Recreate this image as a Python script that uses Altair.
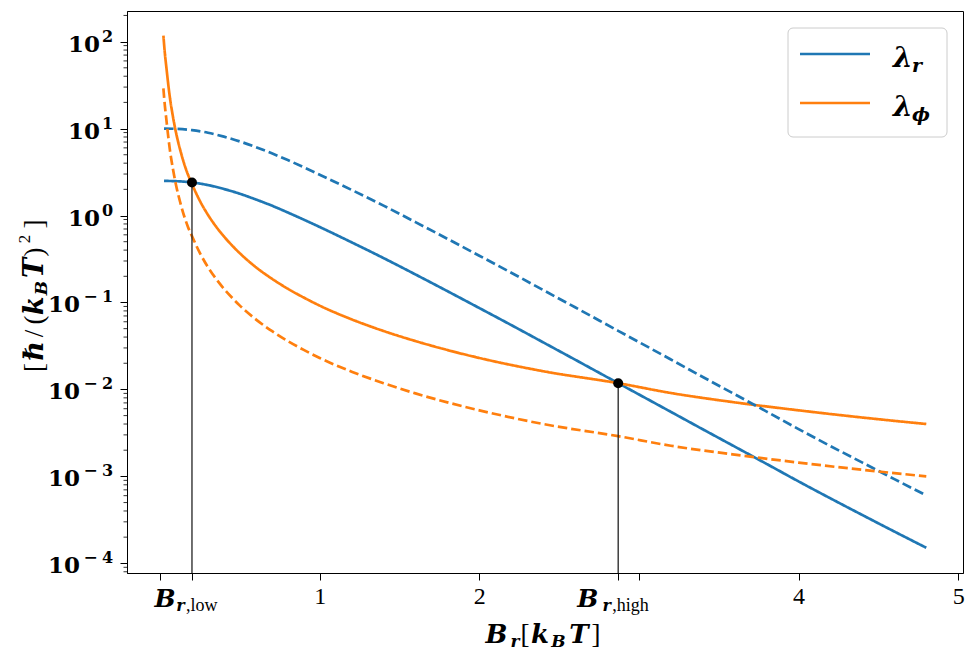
import altair as alt
import pandas as pd

# ---------------- data ----------------
r_x = [0.025, 0.1, 0.2, 0.3, 0.4, 0.5, 0.6, 0.7, 0.8, 0.9, 1.0, 1.2, 1.4, 1.6, 1.8,
       2.0, 2.2, 2.4, 2.6, 2.87, 3.0, 3.2, 3.4, 3.6, 3.8, 4.0, 4.2, 4.4, 4.6, 4.8]
lambda_r_solid = [2.50, 2.483, 2.40, 2.24, 2.02, 1.78, 1.53, 1.30, 1.084, 0.897, 0.738,
                  0.492, 0.324, 0.210, 0.135, 0.0863, 0.055, 0.0348, 0.022, 0.0118,
                  0.00875, 0.00552, 0.00348, 0.0022, 0.00139, 0.000875, 0.000558,
                  0.000359, 0.000232, 0.000151]
lambda_r_dashed = [10.0, 9.93, 9.60, 8.96, 8.07, 7.11, 6.12, 5.19, 4.34, 3.59, 2.95, 1.97,
                   1.30, 0.84, 0.54, 0.345, 0.22, 0.139, 0.088, 0.0472, 0.035, 0.0221,
                   0.0139, 0.0088, 0.00556, 0.0035, 0.00223, 0.00144, 0.00093, 0.000604]

phi_x = [0.021, 0.03, 0.04, 0.05, 0.06, 0.08, 0.1, 0.125, 0.15, 0.175, 0.2, 0.25, 0.3,
         0.35, 0.4, 0.45, 0.5, 0.6, 0.7, 0.8, 0.9, 1.0, 1.2, 1.4, 1.6, 1.8, 2.0, 2.4,
         2.87, 3.2, 3.6, 4.0, 4.4, 4.8]
lambda_phi_solid = [117, 74, 50, 34, 24, 14, 9.0, 5.8, 4.0, 2.95, 2.3, 1.47, 1.02, 0.75,
                    0.575, 0.455, 0.368, 0.255, 0.188, 0.144, 0.114, 0.092, 0.064, 0.047,
                    0.036, 0.0284, 0.023, 0.0162, 0.0118, 0.0091, 0.0071, 0.00575,
                    0.00475, 0.004]
lambda_phi_dashed = [29, 18.5, 12.5, 8.5, 6.0, 3.5, 2.25, 1.45, 1.0, 0.74, 0.58, 0.37,
                     0.255, 0.188, 0.144, 0.114, 0.092, 0.064, 0.047, 0.036, 0.0285,
                     0.023, 0.016, 0.0118, 0.009, 0.0071, 0.00575, 0.004, 0.0029, 0.00225,
                     0.00178, 0.00144, 0.00119, 0.001]

cross_x = [0.2, 2.87]
cross_y = [2.40, 0.0118]

x_domain = [-0.207, 5.03]
y_domain = [7.74e-5, 225]
x_tick_values = [0, 0.2, 1, 2, 2.87, 3, 4, 5]
x_tick_labels = ["", "", "1", "2", "", "", "4", "5"]
y_tick_exponents = [-4, -3, -2, -1, 0, 1, 2]
y_minor_ticks = [m * 10.0 ** e for e in range(-5, 3) for m in range(2, 10)
                 if y_domain[0] <= m * 10.0 ** e <= y_domain[1]]

series_names = ["r", "phi"]
series_labels = ["r", "ϕ"]
series_colors = ["#1f77b4", "#ff7f0e"]

# ---------------- layout ----------------
W, H = 836, 562
MATH = "DejaVu Serif"
ROMAN = "Liberation Serif"
LW = 2.7

rows = []
for x, y in zip(r_x, lambda_r_solid):
    rows.append({"x": x, "y": y, "series": "r", "style": "solid", "key": "r_solid"})
for x, y in zip(phi_x, lambda_phi_solid):
    rows.append({"x": x, "y": y, "series": "phi", "style": "solid", "key": "phi_solid"})
for x, y in zip(r_x, lambda_r_dashed):
    rows.append({"x": x, "y": y, "series": "r", "style": "dashed", "key": "r_dashed"})
for x, y in zip(phi_x, lambda_phi_dashed):
    rows.append({"x": x, "y": y, "series": "phi", "style": "dashed", "key": "phi_dashed"})
df = pd.DataFrame(rows)

xs = alt.Scale(domain=x_domain, nice=False, zero=False)
ys = alt.Scale(type="log", domain=y_domain, nice=False)


def cond_expr(pairs, test):
    expr = "''"
    for v, lab in reversed(pairs):
        expr = f"({test} == {v}) ? '{lab}' : {expr}"
    return expr


x_label_expr = cond_expr(list(zip(x_tick_values, x_tick_labels)), "datum.value")

x_axis = alt.Axis(values=x_tick_values, labelExpr=x_label_expr, title=None, grid=False,
                  labelFont=ROMAN, labelFontSize=24, labelColor="black",
                  tickColor="black", tickSize=7, tickWidth=1, labelPadding=4,
                  domainColor="black", labelFlush=False, labelOverlap=False)
y_axis = alt.Axis(values=[10.0 ** e for e in y_tick_exponents], labels=False,
                  title=None, grid=False, tickColor="black", tickSize=7,
                  tickWidth=1, domainColor="black")

X = alt.X("x:Q", scale=xs, axis=x_axis)
Y = alt.Y("y:Q", scale=ys, axis=y_axis)

lines = alt.Chart(df).mark_line(strokeWidth=LW, clip=True, interpolate="monotone").encode(
    x=X, y=Y,
    color=alt.Color("series:N", scale=alt.Scale(domain=series_names, range=series_colors),
                    legend=None),
    strokeDash=alt.StrokeDash("style:N", scale=alt.Scale(domain=["solid", "dashed"],
                                                          range=[[1, 0], [9.5, 4]]),
                              legend=None),
    detail="key:N",
    order="x:Q",
)

cross_df = pd.DataFrame({"x": cross_x, "y": cross_y})
vrules = alt.Chart(cross_df).mark_rule(color="#222222", strokeWidth=1.3).encode(
    x=X, y=Y, y2=alt.value(H))
dots = alt.Chart(cross_df).mark_circle(size=100, color="black", opacity=1).encode(x=X, y=Y)

minor_df = pd.DataFrame({"y": y_minor_ticks})
minor = alt.Chart(minor_df).mark_rule(color="black", strokeWidth=0.8).encode(
    y=Y, x=alt.value(0), x2=alt.value(-3.5))

# y tick labels: "10" with a superscript exponent
ylab = pd.DataFrame({
    "y": [10.0 ** e for e in y_tick_exponents],
    "neg": [e < 0 for e in y_tick_exponents],
    "digit": [str(abs(e)) for e in y_tick_exponents],
})
ylab_neg = ylab[ylab["neg"]]
ylab_pos = ylab[~ylab["neg"]]


def ylab_layer(d, text, x, size, align, dy, field=False):
    mk = dict(font=MATH, fontSize=size, fontWeight="bold", align=align,
              baseline="alphabetic", dy=dy, color="black")
    if not field:
        mk["text"] = text
    enc = dict(y=Y, x=alt.value(x))
    if field:
        enc["text"] = alt.Text("digit:N")
    return alt.Chart(d).mark_text(**mk).encode(**enc)


y_labels = [
    ylab_layer(ylab_pos, "10", -27, 23, "right", 10),
    ylab_layer(ylab_neg, "10", -47, 23, "right", 10),
    ylab_layer(ylab_neg, "−", -36.5, 17, "center", 0),
    ylab_layer(ylab, None, -25, 16, "left", 0, field=True),
]

one = alt.Data(values=[{"a": 1}])


def txt(s, x, y, size, bold=False, italic=False, font=MATH, align="center",
        angle=0, dx=0, dy=0):
    kw = dict(text=s, font=font, fontSize=size, align=align, baseline="alphabetic",
              color="black", dx=dx, dy=dy)
    if bold:
        kw["fontWeight"] = "bold"
    if italic:
        kw["fontStyle"] = "italic"
    if angle:
        kw["angle"] = angle
    return alt.Chart(one).mark_text(**kw).encode(x=alt.value(x), y=alt.value(y))


# x tick labels for B_r,low and B_r,high (anchored at their data x)
def b_label(xv, sub, dxB):
    d = pd.DataFrame({"x": [xv]})
    base = alt.Chart(d)
    return [
        base.mark_text(text="B", font=MATH, fontSize=25, fontWeight="bold",
                       fontStyle="italic", align="center", baseline="alphabetic",
                       dx=dxB, color="black").encode(x=X, y=alt.value(596)),
        base.mark_text(text="r", font=MATH, fontSize=16, fontWeight="bold",
                       fontStyle="italic", align="center", baseline="alphabetic",
                       dx=-11.5, color="black").encode(x=X, y=alt.value(600)),
        base.mark_text(text=sub, font=ROMAN, fontSize=18, align="left",
                       baseline="alphabetic", dx=-6, color="black").encode(
            x=X, y=alt.value(600)),
    ]


b_labels = b_label(cross_x[0], ",low", -27) + b_label(cross_x[1], ",high", -30.5)

# x title  B_r[k_B T]
xt_y = 632
x_title = [
    txt("B", 369.5, xt_y, 26, bold=True, italic=True),
    txt("r", 388, xt_y + 4, 17, bold=True, italic=True),
    txt("[", 398, xt_y, 27, font=ROMAN),
    txt("k", 413, xt_y, 26, bold=True, italic=True),
    txt("B", 431.5, xt_y + 4, 17, bold=True, italic=True),
    txt("T", 452, xt_y, 26, bold=True, italic=True),
    txt("]", 469, xt_y, 27, font=ROMAN),
]

# y title  [hbar/(k_B T)^2]  rotated
yx, yy = -84, 362
y_title = [
    txt("[", yx, yy, 27, font=ROMAN, angle=270, dx=5.5),
    txt("ℏ", yx, yy, 27, bold=True, italic=True, angle=270, dx=22),
    txt("/", yx, yy, 27, font=ROMAN, angle=270, dx=39.5),
    txt("(", yx, yy, 27, font=ROMAN, angle=270, dx=53),
    txt("k", yx, yy, 27, bold=True, italic=True, angle=270, dx=67),
    txt("B", yx, yy, 17, bold=True, italic=True, angle=270, dx=85, dy=4),
    txt("T", yx, yy, 27, bold=True, italic=True, angle=270, dx=105),
    txt(")", yx, yy, 27, font=ROMAN, angle=270, dx=121),
    txt("2", yx, yy, 17, font=ROMAN, angle=270, dx=134, dy=-13),
    txt("]", yx, yy, 27, font=ROMAN, angle=270, dx=149),
]

# legend
legend_box = alt.Chart(one).mark_rect(fill="white", fillOpacity=0.8, stroke="#cccccc",
                                      strokeWidth=1, cornerRadius=5).encode(
    x=alt.value(661), x2=alt.value(820), y=alt.value(17), y2=alt.value(126))
legend_items = []
for i, (lab, col) in enumerate(zip(series_labels, series_colors)):
    ly = 43 + 49 * i
    legend_items.append(alt.Chart(one).mark_rule(color=col, strokeWidth=LW).encode(
        x=alt.value(673), x2=alt.value(743), y=alt.value(ly)))
    legend_items.append(txt("λ", 766, ly + 13, 28, bold=True, italic=True, align="left"))
    legend_items.append(txt(lab, 785, ly + 18, 19, bold=True, italic=True, align="left"))

chart = alt.layer(
    minor, lines, vrules, dots, *y_labels, *b_labels, *x_title, *y_title,
    legend_box, *legend_items
).properties(
    width=W, height=H,
    autosize=alt.AutoSizeParams(type="none"),
    padding={"left": 119, "top": 3, "right": 4, "bottom": 80},
).configure_view(stroke="black", strokeWidth=1)

chart.save("out.html", embed_options={"renderer": "svg", "actions": False})
